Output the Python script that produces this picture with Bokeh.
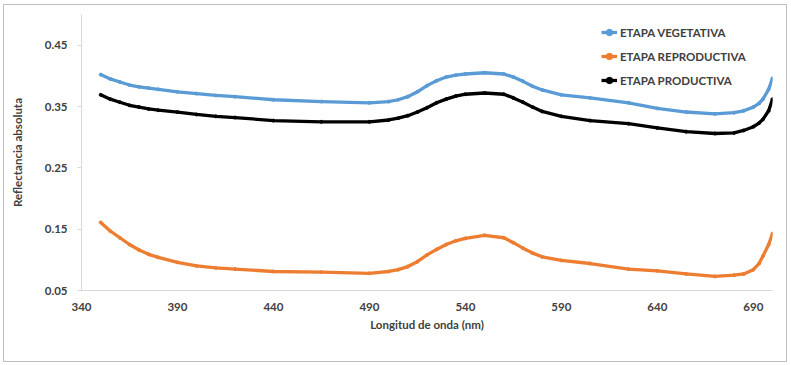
from bokeh.plotting import figure
from bokeh.models import FixedTicker, Legend, LegendItem
from bokeh.embed import file_html
from bokeh.resources import INLINE

wavelength = [350, 355, 360, 365, 370, 375, 380, 390, 400, 410, 420, 440, 465, 490, 500, 505,
              510, 515, 520, 525, 530, 535, 540, 550, 560, 565, 570, 575, 580, 590, 605, 625,
              640, 655, 670, 680, 685, 690, 693, 695, 698, 700]
vegetativa = [0.402, 0.395, 0.390, 0.385, 0.382, 0.380, 0.378, 0.374, 0.371, 0.368, 0.366,
              0.361, 0.358, 0.356, 0.358, 0.361, 0.366, 0.374, 0.384, 0.392, 0.398, 0.401,
              0.403, 0.405, 0.403, 0.398, 0.391, 0.383, 0.377, 0.369, 0.364, 0.356, 0.347,
              0.341, 0.338, 0.340, 0.343, 0.349, 0.355, 0.362, 0.378, 0.396]
reproductiva = [0.161, 0.147, 0.136, 0.125, 0.116, 0.109, 0.104, 0.096, 0.090, 0.087, 0.085,
                0.081, 0.080, 0.078, 0.081, 0.084, 0.089, 0.097, 0.108, 0.117, 0.125, 0.131,
                0.135, 0.140, 0.136, 0.128, 0.119, 0.111, 0.105, 0.099, 0.094, 0.085, 0.082,
                0.077, 0.073, 0.075, 0.077, 0.084, 0.094, 0.106, 0.125, 0.143]
productiva = [0.369, 0.362, 0.357, 0.352, 0.349, 0.346, 0.344, 0.341, 0.337, 0.334, 0.332,
              0.327, 0.325, 0.325, 0.328, 0.331, 0.335, 0.341, 0.348, 0.356, 0.362, 0.367,
              0.370, 0.372, 0.370, 0.364, 0.357, 0.349, 0.342, 0.334, 0.327, 0.322, 0.315,
              0.309, 0.306, 0.307, 0.311, 0.317, 0.323, 0.329, 0.343, 0.362]

series_names = ["ETAPA VEGETATIVA", "ETAPA REPRODUCTIVA", "ETAPA PRODUCTIVA"]
series_colors = ["#5b9bd5", "#ed7d31", "#000000"]
x_ticks = [340, 390, 440, 490, 540, 590, 640, 690]
y_ticks = [0.05, 0.15, 0.25, 0.35, 0.45]

FONT = "Lato"
TXT = "#404040"

p = figure(width=784, height=358, x_range=(340, 700), y_range=(0.05, 0.50),
           output_backend="svg", toolbar_location=None,
           min_border_left=77, min_border_right=16, min_border_top=9, min_border_bottom=73)
p.styles = {"border": "1px solid #bfbfbf",
            "margin-left": "3px", "margin-top": "4px"}
p.outline_line_color = None
p.grid.grid_line_color = None

items = []
for name, col, ys in zip(series_names, series_colors, [vegetativa, reproductiva, productiva]):
    r1 = p.line(wavelength, ys, line_color=col, line_width=3.3, line_join="round")
    r2 = p.scatter(wavelength, ys, size=3, color=col)
    items.append(LegendItem(label=name, renderers=[r1, r2]))

for ax in (p.xaxis, p.yaxis):
    ax.axis_line_color = "#d9d9d9"
    ax.major_tick_line_color = "#d9d9d9"
    ax.minor_tick_line_color = None
    ax.major_label_text_font = FONT
    ax.major_label_text_font_style = "bold"
    ax.major_label_text_font_size = "11.5px"
    ax.major_label_text_color = TXT
    ax.axis_label_text_font = FONT
    ax.axis_label_text_font_style = "bold"
    ax.axis_label_text_font_size = "11.5px"
    ax.axis_label_text_color = TXT

p.xaxis.ticker = FixedTicker(ticks=x_ticks)
p.yaxis.ticker = FixedTicker(ticks=y_ticks)
p.xaxis.major_tick_out = 0
p.xaxis.major_tick_in = 0
p.yaxis.major_tick_out = 4
p.yaxis.major_tick_in = 0
p.xaxis.axis_label = "Longitud de onda (nm)"
p.yaxis.axis_label = "Reflectancia absoluta"
p.xaxis.major_label_standoff = 12
p.yaxis.major_label_standoff = 10
p.xaxis.axis_label_standoff = 4
p.yaxis.axis_label_standoff = 18

legend = Legend(items=items, location=(520, 200), orientation="vertical",
                label_text_font=FONT, label_text_font_style="bold",
                label_text_font_size="11.5px", label_text_color=TXT,
                glyph_width=16, glyph_height=20, label_height=20, spacing=4,
                padding=0, margin=0, label_standoff=3,
                border_line_color=None, background_fill_alpha=0)
p.add_layout(legend, "center")

open("out.html", "w").write(file_html(p, INLINE))
